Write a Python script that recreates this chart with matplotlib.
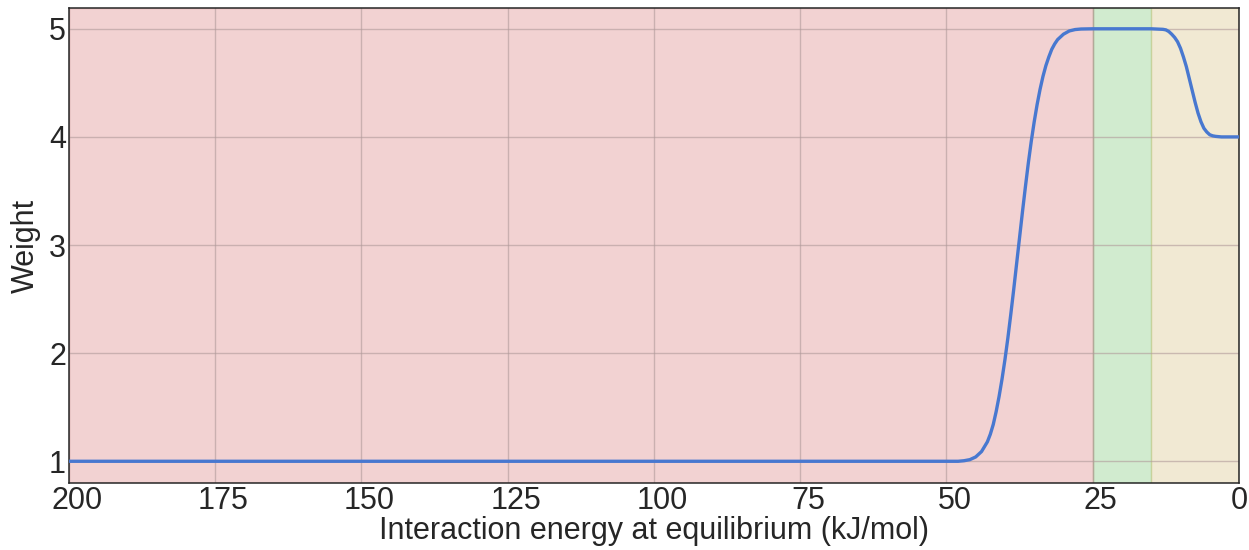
import numpy as np
import matplotlib
matplotlib.use("Agg")
import matplotlib.pyplot as plt
import matplotlib.transforms as mtransforms

# curve points (energy in kJ/mol, weight)
energy = [200, 150, 100, 60, 50, 48, 47, 46, 45, 44, 43, 42.5, 42, 41.5, 41,
          40.5, 40, 39.5, 39, 38.5, 38, 37.5, 37, 36.5, 36, 35.5, 35, 34.5,
          34, 33.5, 33, 32.5, 32, 31.5, 31, 30, 29, 28, 27, 25, 20, 15, 13,
          12.5, 12, 11.5, 11, 10.5, 10, 9.5, 9, 8.5, 8, 7.5, 7, 6.5, 6, 5.5,
          5, 4.5, 4, 3, 2, 1, 0]
weight = [1.0, 1.0, 1.0, 1.0, 1.0, 1.0, 1.005, 1.015, 1.04, 1.09, 1.18, 1.25,
          1.34, 1.46, 1.6, 1.76, 1.94, 2.14, 2.36, 2.59, 2.83, 3.07, 3.31,
          3.54, 3.76, 3.96, 4.14, 4.3, 4.44, 4.56, 4.66, 4.74, 4.81, 4.86,
          4.9, 4.95, 4.98, 4.993, 4.998, 5.0, 5.0, 5.0, 4.995, 4.99, 4.975,
          4.95, 4.92, 4.88, 4.82, 4.74, 4.65, 4.54, 4.43, 4.32, 4.22, 4.14,
          4.08, 4.045, 4.02, 4.01, 4.005, 4.0, 4.0, 4.0, 4.0]

xticks = [200, 175, 150, 125, 100, 75, 50, 25, 0]
yticks = [1, 2, 3, 4, 5]

# shaded energy ranges: (high, low, colour)
bands = [(200, 25, "#d46a6a"), (25, 15, "#69c062"), (15, 0, "#d2b86e")]

plt.rcParams.update({
    "font.family": ["Liberation Sans", "DejaVu Sans"],
    "font.size": 22,
})

fig, ax = plt.subplots(figsize=(12.49, 5.5), dpi=100)
fig.subplots_adjust(left=0.055, right=0.992, top=0.985, bottom=0.122)

for hi, lo, col in bands:
    ax.axvspan(lo, hi, color=col, alpha=0.3, zorder=0)

ax.plot(energy, weight, color="#4878d0", lw=2.4, zorder=3)

ax.set_xlim(200, 0)
ax.set_ylim(0.8, 5.19)
ax.set_xticks(xticks)
ax.set_yticks(yticks)
ax.grid(True, color="#b09a9a", lw=1.0, alpha=0.6, zorder=1)
ax.set_axisbelow(True)
ax.tick_params(length=0, labelcolor="#262626", labelsize=22)
ax.tick_params(axis="x", pad=2)
ax.tick_params(axis="y", pad=2)
for s in ax.spines.values():
    s.set_color("#262626")
    s.set_linewidth(1.1)

# the reference draws the x tick labels a little right of their ticks
shift = mtransforms.ScaledTranslation(0.08, 0, fig.dpi_scale_trans)
for lab in ax.get_xticklabels()[:-1]:
    lab.set_transform(lab.get_transform() + shift)

ax.set_xlabel("Interaction energy at equilibrium (kJ/mol)", color="#262626",
              fontsize=22, labelpad=0)
ax.set_ylabel("Weight", color="#262626", fontsize=22, labelpad=6)

fig.savefig("out.png", dpi=100)
